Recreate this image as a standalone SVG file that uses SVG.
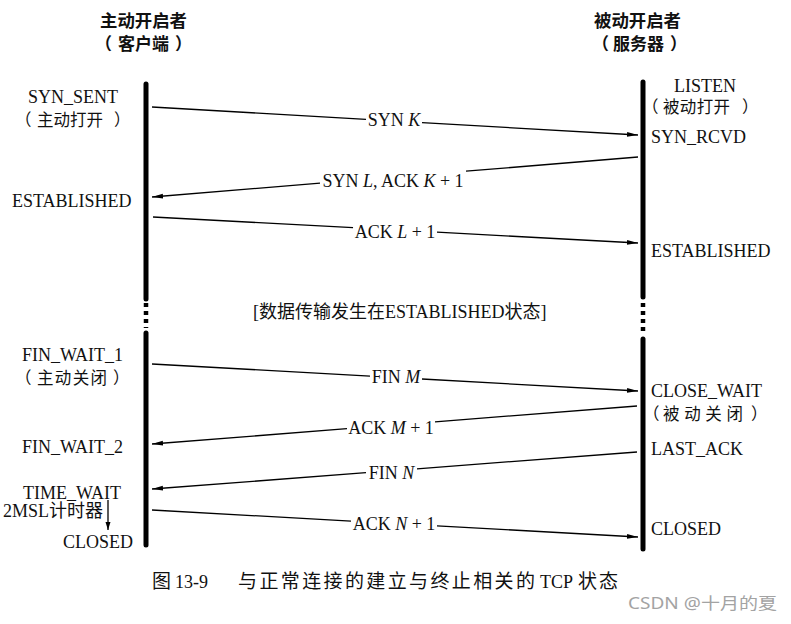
<svg xmlns="http://www.w3.org/2000/svg" width="791" height="624" viewBox="0 0 791 624">
<defs>
<marker id="ah" markerUnits="userSpaceOnUse" markerWidth="12" markerHeight="6" refX="11" refY="3" orient="auto">
<path d="M0,0.6 L11,3 L0,5.4 z" fill="#000"/>
</marker>
<marker id="ahs" markerUnits="userSpaceOnUse" markerWidth="8" markerHeight="6" refX="8" refY="3" orient="auto">
<path d="M0,0.5 L8,3 L0,5.5 z" fill="#000"/>
</marker>
</defs>
<style>
text{text-spacing-trim:space-all}
.hd{font-family:"Noto Sans CJK SC",sans-serif;font-weight:bold;font-size:17px;fill:#111}
.st{font-family:"Liberation Serif","Noto Sans CJK SC",serif;font-size:18px;fill:#111}
.cn{font-family:"Noto Sans CJK SC",sans-serif;font-size:16.5px;fill:#111}
.lb{font-family:"Liberation Serif","Noto Sans CJK SC",serif;font-size:18px;fill:#111;text-anchor:middle}
.it{font-style:italic}
.bar{stroke:#000;stroke-width:5;stroke-linecap:round;fill:none}
.dash{stroke:#000;stroke-width:4.5;fill:none;stroke-dasharray:4 4}
.msg{stroke:#000;stroke-width:1.3;fill:none}
.cap{font-family:"Liberation Serif","Noto Sans CJK SC",serif;font-size:18px;fill:#111}
.capc{font-family:"Noto Sans CJK SC",sans-serif;font-size:19px}
.wm{font-family:"Noto Sans","Noto Sans CJK SC",sans-serif;font-size:16px;fill:#a3a3a3}
</style>
<rect width="791" height="624" fill="#fff"/>

<g id="client">
<text class="hd" x="100" y="27" textLength="87" lengthAdjust="spacingAndGlyphs">主动开启者</text>
<text class="hd" y="50"><tspan x="95">（</tspan><tspan x="118">客户端</tspan><tspan x="175">）</tspan></text>
<line class="bar" x1="146" y1="84" x2="146" y2="299"/>
<line class="dash" x1="146" y1="303" x2="146" y2="328"/>
<line class="bar" x1="146" y1="333" x2="146" y2="545"/>
</g>

<g id="server">
<text class="hd" x="594" y="27" textLength="87" lengthAdjust="spacingAndGlyphs">被动开启者</text>
<text class="hd" y="50"><tspan x="592">（</tspan><tspan x="613">服务器</tspan><tspan x="670">）</tspan></text>
<line class="bar" x1="643" y1="82" x2="643" y2="297"/>
<line class="dash" x1="643" y1="303" x2="643" y2="333"/>
<line class="bar" x1="643" y1="339" x2="643" y2="549"/>
</g>

<g id="client-states">
<text class="st" x="28" y="103">SYN_SENT</text>
<text class="cn" y="126"><tspan x="15">（</tspan><tspan x="37" textLength="66" lengthAdjust="spacing">主动打开</tspan><tspan x="114">）</tspan></text>
<text class="st" x="12" y="207">ESTABLISHED</text>
<text class="st" x="22" y="361">FIN_WAIT_1</text>
<text class="cn" y="384"><tspan x="15">（</tspan><tspan x="37" textLength="70" lengthAdjust="spacing">主动关闭</tspan><tspan x="113">）</tspan></text>
<text class="st" x="22" y="453">FIN_WAIT_2</text>
<text class="st" x="23" y="499">TIME_WAIT</text>
<text class="st" x="3" y="517">2MSL计时器</text>
<text class="st" x="63" y="548">CLOSED</text>
</g>

<g id="server-states">
<text class="st" x="705" y="92" text-anchor="middle">LISTEN</text>
<text class="cn" y="113"><tspan x="642">（</tspan><tspan x="663" textLength="67" lengthAdjust="spacing">被动打开</tspan><tspan x="742">）</tspan></text>
<text class="st" x="651" y="143">SYN_RCVD</text>
<text class="st" x="651" y="257">ESTABLISHED</text>
<text class="st" x="651" y="397">CLOSE_WAIT</text>
<text class="cn" y="420" font-size="18"><tspan x="643">（</tspan><tspan x="663" textLength="80" lengthAdjust="spacing">被动关闭</tspan><tspan x="751">）</tspan></text>
<text class="st" x="651" y="455">LAST_ACK</text>
<text class="st" x="651" y="535">CLOSED</text>
</g>

<g id="data-note">
<text class="st" x="253" y="318">[数据传输发生在ESTABLISHED状态]</text>
</g>

<g id="connectors">
<line class="msg" x1="152" y1="107" x2="366" y2="119.3"/>
<line class="msg" x1="422" y1="122.6" x2="638" y2="135" marker-end="url(#ah)"/>
<line class="msg" x1="638" y1="157" x2="466" y2="171.2"/>
<line class="msg" x1="320" y1="183.2" x2="152" y2="197" marker-end="url(#ah)"/>
<line class="msg" x1="153" y1="217" x2="353" y2="227.7"/>
<line class="msg" x1="437" y1="232.2" x2="638" y2="243" marker-end="url(#ah)"/>
<line class="msg" x1="152" y1="364" x2="370" y2="376.1"/>
<line class="msg" x1="422" y1="379" x2="638" y2="391" marker-end="url(#ah)"/>
<line class="msg" x1="637" y1="406" x2="435" y2="421.8"/>
<line class="msg" x1="347" y1="428.7" x2="152" y2="444" marker-end="url(#ah)"/>
<line class="msg" x1="637" y1="452" x2="417" y2="468.8"/>
<line class="msg" x1="366" y1="472.7" x2="152" y2="489" marker-end="url(#ah)"/>
<line class="msg" x1="152" y1="510" x2="351" y2="521.1"/>
<line class="msg" x1="437" y1="525.8" x2="638" y2="537" marker-end="url(#ah)"/>
<line class="msg" x1="108" y1="500" x2="108" y2="530" marker-end="url(#ahs)"/>
</g>

<g id="message-labels">
<text class="lb" x="394" y="126">SYN <tspan class="it">K</tspan></text>
<text class="lb" x="393" y="187">SYN <tspan class="it">L</tspan>, ACK <tspan class="it">K</tspan> + 1</text>
<text class="lb" x="395" y="238">ACK <tspan class="it">L</tspan> + 1</text>
<text class="lb" x="396" y="383">FIN <tspan class="it">M</tspan></text>
<text class="lb" x="391" y="434">ACK <tspan class="it">M</tspan> + 1</text>
<text class="lb" x="391.5" y="479">FIN <tspan class="it">N</tspan></text>
<text class="lb" x="394" y="530">ACK <tspan class="it">N</tspan> + 1</text>
</g>

<g id="caption">
<text class="cap" y="588"><tspan class="capc" x="152" font-size="16.5">图</tspan><tspan x="175">13-9</tspan><tspan class="capc" x="238" textLength="297" lengthAdjust="spacing">与正常连接的建立与终止相关的</tspan><tspan x="540">TCP</tspan><tspan class="capc" x="578" textLength="40" lengthAdjust="spacing">状态</tspan></text>
<text class="wm" x="628" y="609" textLength="149" lengthAdjust="spacingAndGlyphs">CSDN @十月的夏</text>
</g>
</svg>
